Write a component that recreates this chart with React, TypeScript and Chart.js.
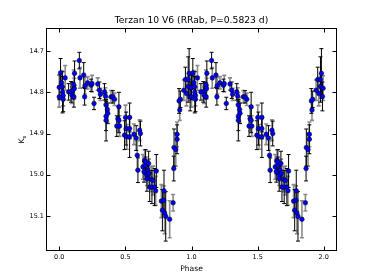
import React, { useEffect, useRef } from "react";
import { Chart, registerables } from "chart.js";
Chart.register(...registerables);

const TITLE = "Terzan 10 V6 (RRab, P=0.5823 d)";
const X_LABEL = "Phase";
const X_TICKS = [0, 0.5, 1.0, 1.5, 2.0];
const Y_TICKS = [14.7, 14.8, 14.9, 15.0, 15.1];
const X_MIN = -0.1;
const X_MAX = 2.1;
const Y_MIN = 14.644;
const Y_MAX = 15.185;

// one cycle of phased photometry (plotted at phase and phase + 1)
const phase = [
  0.000, 0.000, 0.010, 0.018, 0.022, 0.025, 0.030, 0.030, 0.045,
  0.071, 0.089, 0.096, 0.101, 0.109, 0.111, 0.114, 0.116,
  0.152, 0.157, 0.185, 0.195, 0.192, 0.215, 0.241, 0.248, 0.263, 0.291, 0.304, 0.311,
  0.342, 0.349, 0.354, 0.354, 0.354, 0.364, 0.367,
  0.392, 0.405, 0.418, 0.435, 0.443, 0.451, 0.456, 0.451,
  0.494, 0.501, 0.506, 0.511, 0.532, 0.532, 0.532,
  0.565, 0.582, 0.608, 0.614, 0.590, 0.595,
  0.633, 0.641, 0.646, 0.653, 0.663, 0.653, 0.663, 0.671, 0.676, 0.678, 0.684,
  0.696, 0.701, 0.709, 0.721, 0.729, 0.734,
  0.772, 0.780, 0.790, 0.792, 0.797, 0.805, 0.835, 0.861,
  0.866, 0.868, 0.881, 0.891, 0.891, 0.906, 0.911, 0.916,
  0.942, 0.954, 0.962, 0.975, 0.975, 0.982, 0.990, 0.995,
];
const mag = [
  14.788, 14.811, 14.753, 14.777, 14.787, 14.800, 14.808, 14.817, 14.765,
  14.799, 14.799, 14.807, 14.796, 14.781, 14.811, 14.791, 14.754,
  14.723, 14.765, 14.758, 14.784, 14.811, 14.777, 14.783, 14.779, 14.827, 14.780, 14.795, 14.805,
  14.799, 14.809, 14.831, 14.858, 14.868, 14.842, 14.851,
  14.811, 14.811, 14.817, 14.882, 14.864, 14.835, 14.882, 14.868,
  14.904, 14.861, 14.888, 14.908, 14.861, 14.888, 14.908,
  14.902, 14.911, 14.892, 14.900, 14.953, 14.989,
  14.981, 14.993, 14.965, 14.977, 15.001, 14.969, 15.010, 14.989, 14.973, 14.997, 15.030,
  15.011, 15.030, 15.014, 15.030, 15.039, 14.991,
  15.064, 15.086, 15.062, 15.039, 15.093, 15.101, 15.108, 15.068,
  14.985, 14.934, 14.939, 14.914, 14.902, 14.821, 14.843, 14.817,
  14.795, 14.769, 14.803, 14.769, 14.786, 14.754, 14.810, 14.790,
];
const err = [
  0.030, 0.025, 0.035, 0.030, 0.025, 0.050, 0.025, 0.030, 0.030,
  0.020, 0.025, 0.020, 0.020, 0.035, 0.025, 0.025, 0.030,
  0.020, 0.025, 0.030, 0.020, 0.020, 0.015, 0.015, 0.020, 0.015, 0.015, 0.020, 0.015,
  0.020, 0.020, 0.030, 0.035, 0.050, 0.030, 0.025,
  0.015, 0.015, 0.015, 0.025, 0.030, 0.035, 0.025, 0.030,
  0.035, 0.030, 0.040, 0.030, 0.035, 0.025, 0.050,
  0.025, 0.030, 0.025, 0.030, 0.035, 0.030,
  0.030, 0.025, 0.025, 0.020, 0.025, 0.030, 0.030, 0.025, 0.030, 0.035, 0.035,
  0.030, 0.040, 0.035, 0.045, 0.035, 0.040,
  0.040, 0.050, 0.035, 0.050, 0.050, 0.060, 0.045, 0.020,
  0.030, 0.045, 0.040, 0.035, 0.030, 0.030, 0.025, 0.020,
  0.025, 0.030, 0.030, 0.055, 0.025, 0.060, 0.035, 0.030,
];
// 1 = grey error bar, 0 = black error bar
const greyBar = [
  0, 1, 0, 1, 0, 0, 1, 0, 1,
  0, 0, 1, 0, 1, 0, 1, 0,
  0, 1, 0, 1, 0, 1, 0, 1, 0, 1, 0, 1,
  0, 1, 1, 0, 0, 1, 0,
  1, 0, 1, 0, 1, 0, 1, 0,
  0, 1, 0, 1, 0, 1, 0,
  1, 0, 1, 0, 1, 0,
  1, 0, 1, 0, 1, 0, 0, 1, 0, 1, 0,
  1, 0, 1, 0, 1, 0,
  1, 0, 1, 0, 1, 0, 1, 1,
  0, 0, 1, 0, 1, 0, 1, 0,
  1, 0, 1, 0, 1, 0, 0, 1,
];

const FONT = "'DejaVu Sans', sans-serif";

export default function App() {
  const ref = useRef<HTMLCanvasElement>(null);
  useEffect(() => {
    document.body.style.margin = "0";
    const xs: number[] = [];
    const ys: number[] = [];
    const es: number[] = [];
    const gs: number[] = [];
    for (let c = 0; c < 2; c++) {
      for (let i = 0; i < phase.length; i++) {
        xs.push(phase[i] + c);
        ys.push(mag[i]);
        es.push(err[i]);
        gs.push(greyBar[i]);
      }
    }
    const data = xs.map((x, i) => ({ x, y: ys[i] }));

    const errorBars = {
      id: "errorBars",
      beforeDatasetsDraw(chart: any) {
        const { ctx, chartArea, scales } = chart;
        ctx.save();
        ctx.beginPath();
        ctx.rect(chartArea.left, chartArea.top, chartArea.right - chartArea.left, chartArea.bottom - chartArea.top);
        ctx.clip();
        for (const pass of [1, 0]) {
          for (let i = 0; i < xs.length; i++) {
            if (gs[i] !== pass) continue;
            const px = scales.x.getPixelForValue(xs[i]);
            const y1 = scales.y.getPixelForValue(ys[i] - es[i]);
            const y2 = scales.y.getPixelForValue(ys[i] + es[i]);
            ctx.strokeStyle = pass ? "#8a8a8a" : "#000000";
            ctx.lineWidth = pass ? 1.6 : 1;
            ctx.beginPath();
            ctx.moveTo(px, y1);
            ctx.lineTo(px, y2);
            ctx.moveTo(px - 2, y1);
            ctx.lineTo(px + 2, y1);
            ctx.moveTo(px - 2, y2);
            ctx.lineTo(px + 2, y2);
            ctx.stroke();
          }
        }
        ctx.restore();
      },
    };

    const frame = {
      id: "frame",
      afterDraw(chart: any) {
        const { ctx, chartArea, scales } = chart;
        const l = Math.round(chartArea.left) + 0.5;
        const r = Math.round(chartArea.right) - 0.5;
        const t = Math.round(chartArea.top) + 0.5;
        const b = Math.round(chartArea.bottom) - 0.5;
        ctx.save();
        ctx.strokeStyle = "#000";
        ctx.lineWidth = 1;
        ctx.strokeRect(l, t, r - l, b - t);
        ctx.beginPath();
        const TL = 4;
        for (const v of X_TICKS) {
          const px = Math.round(scales.x.getPixelForValue(v)) + 0.5;
          ctx.moveTo(px, b);
          ctx.lineTo(px, b - TL);
          ctx.moveTo(px, t);
          ctx.lineTo(px, t + TL);
        }
        for (const v of Y_TICKS) {
          const py = Math.round(scales.y.getPixelForValue(v)) + 0.5;
          ctx.moveTo(l, py);
          ctx.lineTo(l + TL, py);
          ctx.moveTo(r, py);
          ctx.lineTo(r - TL, py);
        }
        ctx.stroke();
        // title, centred over the plot area
        ctx.fillStyle = "#000";
        ctx.font = `9.2px ${FONT}`;
        ctx.textAlign = "center";
        ctx.textBaseline = "middle";
        ctx.fillText(TITLE, (chartArea.left + chartArea.right) / 2, 21);
        // y-axis label K_s
        const cy = (chartArea.top + chartArea.bottom) / 2;
        ctx.translate(21, cy);
        ctx.rotate(-Math.PI / 2);
        ctx.textBaseline = "alphabetic";
        ctx.font = `7.6px ${FONT}`;
        const kw = ctx.measureText("K").width;
        ctx.font = `5.4px ${FONT}`;
        const sw = ctx.measureText("s").width;
        const start = -(kw + sw) / 2;
        ctx.font = `7.6px ${FONT}`;
        ctx.textAlign = "left";
        ctx.fillText("K", start, 2.8);
        ctx.font = `5.4px ${FONT}`;
        ctx.fillText("s", start + kw, 4.6);
        ctx.restore();
      },
    };

    const chart = new Chart(ref.current!, {
      type: "scatter",
      data: {
        datasets: [
          {
            data,
            pointRadius: 2.3,
            pointBackgroundColor: "#0000ff",
            pointBorderColor: "#000000",
            pointBorderWidth: 0.5,
            showLine: false,
          },
        ],
      },
      options: {
        animation: false,
        responsive: false,
        devicePixelRatio: 1,
        layout: { padding: { left: 0, right: 37, top: 28, bottom: 0 } },
        plugins: {
          legend: { display: false },
          tooltip: { enabled: false },
          title: { display: false },
        },
        scales: {
          x: {
            type: "linear",
            min: X_MIN,
            max: X_MAX,
            grid: { display: false, drawTicks: false },
            border: { display: false },
            afterBuildTicks: (s: any) => {
              s.ticks = X_TICKS.map((v) => ({ value: v }));
            },
            afterFit: (s: any) => {
              s.height = 29;
            },
            ticks: {
              color: "#000",
              padding: 2,
              font: { family: FONT, size: 6.5 },
              maxRotation: 0,
              callback: (v: any) => Number(v).toFixed(1),
            },
            title: {
              display: true,
              text: X_LABEL,
              color: "#000",
              font: { family: FONT, size: 7.6 },
              padding: { top: 0, bottom: 6.7 },
            },
          },
          y: {
            type: "linear",
            reverse: true,
            min: Y_MIN,
            max: Y_MAX,
            grid: { display: false, drawTicks: false },
            border: { display: false },
            afterBuildTicks: (s: any) => {
              s.ticks = Y_TICKS.map((v) => ({ value: v }));
            },
            afterFit: (s: any) => {
              s.width = 46;
            },
            ticks: {
              color: "#000",
              padding: 2,
              font: { family: FONT, size: 6.5 },
              callback: (v: any) => Number(v).toFixed(1),
            },
          },
        },
      },
      plugins: [errorBars, frame],
    });
    return () => chart.destroy();
  }, []);
  return (
    <canvas
      ref={ref}
      width={374}
      height={280}
      style={{ display: "block", width: 374, height: 280 }}
    />
  );
}
